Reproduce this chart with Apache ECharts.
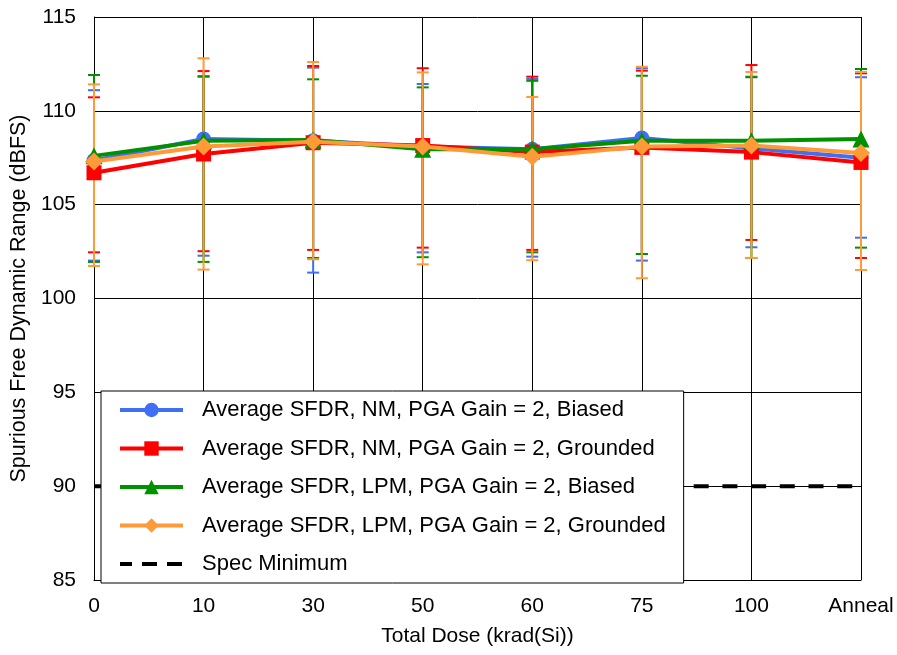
<!DOCTYPE html>
<html><head><meta charset="utf-8">
<script src="https://cdn.jsdelivr.net/npm/echarts@6/dist/echarts.min.js"></script>
<style>html,body{margin:0;padding:0;background:#fff}#c{width:897px;height:655px}</style>
</head><body><div id="c"></div>
<script>
const categories = ['0','10','30','50','60','75','100','Anneal'];
const yTicks = {min:85, max:115, interval:5};
const nmBiased = [107.35,108.5,108.4,108.1,107.95,108.55,108.0,107.5];
const nmGrounded = [106.7,107.7,108.3,108.15,107.8,108.05,107.8,107.25];
const lpmBiased = [107.6,108.4,108.45,107.95,107.95,108.4,108.4,108.5];
const lpmGrounded = [107.3,108.1,108.35,108.1,107.55,108.1,108.15,107.75];
const nmBiasedHigh = [111.1,111.85,112.3,111.43,111.7,112.27,111.82,111.79];
const nmBiasedLow = [102.02,102.28,101.38,102.46,102.23,102.02,102.73,103.24];
const nmGroundedHigh = [110.72,112.12,112.39,112.27,111.82,112.14,112.44,112.0];
const nmGroundedLow = [102.46,102.52,102.59,102.71,102.59,102.37,103.12,102.16];
const lpmBiasedHigh = [111.91,111.82,111.68,111.25,111.6,111.87,111.79,112.23];
const lpmBiasedLow = [101.95,101.95,102.16,102.2,102.46,102.37,102.16,102.71];
const lpmGroundedHigh = [111.41,112.8,112.6,112.05,110.74,112.35,112.07,112.07];
const lpmGroundedLow = [101.73,101.54,102.09,101.82,102.04,101.08,102.16,101.52];
const specMin = [90,90,90,90,90,90,90,90];

const names = ['Average SFDR, NM, PGA Gain = 2, Biased','Average SFDR, NM, PGA Gain = 2, Grounded','Average SFDR, LPM, PGA Gain = 2, Biased','Average SFDR, LPM, PGA Gain = 2, Grounded','Spec Minimum'];
const colors = ['#3f6ff2','#ff0000','#009000','#ff9a38'];
const means = [nmBiased,nmGrounded,lpmBiased,lpmGrounded];
const highs = [nmBiasedHigh,nmGroundedHigh,lpmBiasedHigh,lpmGroundedHigh];
const lows = [nmBiasedLow,nmGroundedLow,lpmBiasedLow,lpmGroundedLow];
const symbols = ['circle','rect','triangle','diamond'];
const symSizes = [15,15,17,18];
const font = 'Liberation Sans, Arial, sans-serif';

const series = [];
for (let s=0;s<4;s++){
  series.push({
    name:'err'+s, type:'custom', z:2+s*0.01,
    data: categories.map((c,i)=>[i, lows[s][i], highs[s][i]]),
    renderItem:(params, api)=>{
      const x = api.value(0);
      const lo = api.coord([x, api.value(1)]);
      const hi = api.coord([x, api.value(2)]);
      const w = 6;
      const st = {stroke: colors[s], lineWidth: 2};
      return {type:'group', children:[
        {type:'line', shape:{x1:lo[0],y1:lo[1],x2:hi[0],y2:hi[1]}, style:st},
        {type:'line', shape:{x1:lo[0]-w,y1:lo[1],x2:lo[0]+w,y2:lo[1]}, style:st},
        {type:'line', shape:{x1:hi[0]-w,y1:hi[1],x2:hi[0]+w,y2:hi[1]}, style:st}
      ]};
    },
    silent:true
  });
}
for (let s=0;s<4;s++){
  series.push({
    name:names[s], type:'line', z:3+s*0.01, data:means[s],
    symbol:symbols[s], symbolSize:symSizes[s], showSymbol:true,
    lineStyle:{color:colors[s], width:4},
    itemStyle:{color:colors[s]},
    emphasis:{disabled:true}, animation:false
  });
}
series.push({
  name:names[4], type:'line', z:2.5, data:specMin, symbol:'none',
  lineStyle:{color:'#000', width:4, type:[15,13.7], dashOffset:3}, itemStyle:{color:'#000'}, animation:false
});

const legendData = names.map((n,i)=> i<4 ? {name:n} :
  {name:n, itemStyle:{color:'rgba(0,0,0,0)', borderColor:'rgba(0,0,0,0)', borderWidth:0}, lineStyle:{width:4, type:[15,10], color:'#000'}});

const chart = echarts.init(document.getElementById('c'));
chart.setOption({
  animation:false,
  backgroundColor:'#fff',
  grid:{left:93, right:36, top:17, bottom:75, containLabel:false},
  xAxis:{
    type:'category', data:categories, boundaryGap:false,
    name:'Total Dose (krad(Si))', nameLocation:'middle', nameGap:46,
    nameTextStyle:{fontFamily:font, fontSize:21, color:'#000'},
    axisLine:{lineStyle:{color:'#000', width:1}}, axisTick:{show:false},
    axisLabel:{fontFamily:font, fontSize:21, color:'#000', margin:16},
    splitLine:{show:true, lineStyle:{color:'#000', width:1}}
  },
  yAxis:{
    type:'value', min:yTicks.min, max:yTicks.max, interval:yTicks.interval,
    name:'Spurious Free Dynamic Range (dBFS)', nameLocation:'middle', nameGap:64,
    nameTextStyle:{fontFamily:font, fontSize:21.5, color:'#000'},
    axisLine:{show:true, lineStyle:{color:'#000', width:1}}, axisTick:{show:false},
    axisLabel:{fontFamily:font, fontSize:21, color:'#000', margin:18},
    splitLine:{show:true, lineStyle:{color:'#000', width:1}}
  },
  legend:{
    data:legendData, orient:'vertical', left:101, top:391, z:20,
    backgroundColor:'#fff', borderColor:'#000', borderWidth:1, borderRadius:0,
    padding:[8,18,8,17], itemGap:16.5, itemWidth:63, itemHeight:18,
    lineStyle:{width:4},
    textStyle:{fontFamily:font, fontSize:22, color:'#000', padding:[0,0,0,14]},
    selectedMode:false
  },
  series:series
});
</script></body></html>
